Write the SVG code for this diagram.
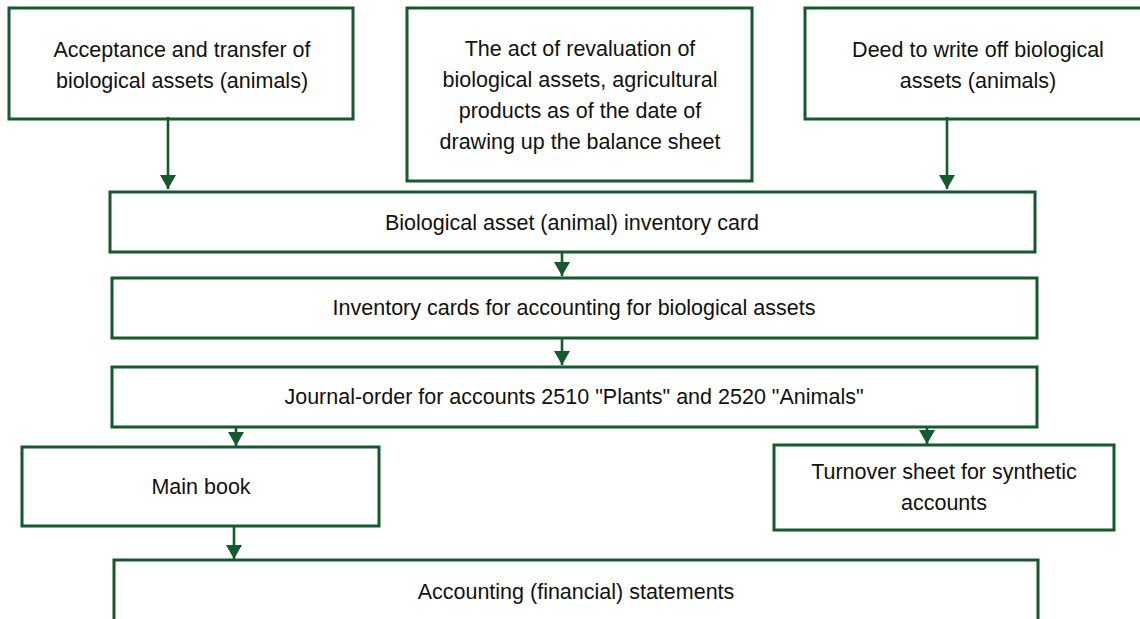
<svg xmlns="http://www.w3.org/2000/svg" width="1140" height="619" viewBox="0 0 1140 619">
  <style>
    .box { fill: #ffffff; stroke: #15592c; stroke-width: 3; }
    .lbl { font-family: "Liberation Sans", Arial, sans-serif; font-size: 21.5px; fill: #111111; text-anchor: middle; }
    .conn { stroke: #15592c; stroke-width: 2.6; fill: none; marker-end: url(#arrow); }
  </style>
  <defs>
    <marker id="arrow" viewBox="0 0 14 16" refX="14" refY="8" markerWidth="14" markerHeight="16" markerUnits="userSpaceOnUse" orient="auto">
      <path d="M0,0 L14,8 L0,16 z" fill="#15592c"/>
    </marker>
  </defs>
  <rect width="1140" height="619" fill="#ffffff"/>

  <g id="acceptance-transfer">
    <rect class="box" x="9" y="8" width="344" height="111"/>
    <text class="lbl" x="182" y="57">Acceptance and transfer of</text>
    <text class="lbl" x="182" y="88">biological assets (animals)</text>
  </g>

  <g id="revaluation-act">
    <rect class="box" x="407" y="8" width="345" height="173"/>
    <text class="lbl" x="580" y="56">The act of revaluation of</text>
    <text class="lbl" x="580" y="87">biological assets, agricultural</text>
    <text class="lbl" x="580" y="118">products as of the date of</text>
    <text class="lbl" x="580" y="149">drawing up the balance sheet</text>
  </g>

  <g id="write-off-deed">
    <rect class="box" x="805" y="8" width="350" height="111"/>
    <text class="lbl" x="978" y="57">Deed to write off biological</text>
    <text class="lbl" x="978" y="88">assets (animals)</text>
  </g>

  <g id="inventory-card">
    <rect class="box" x="110" y="192" width="925" height="60"/>
    <text class="lbl" x="572" y="230">Biological asset (animal) inventory card</text>
  </g>

  <g id="inventory-cards">
    <rect class="box" x="112" y="278" width="925" height="60"/>
    <text class="lbl" x="574" y="315">Inventory cards for accounting for biological assets</text>
  </g>

  <g id="journal-order">
    <rect class="box" x="112" y="367" width="925" height="60"/>
    <text class="lbl" x="574" y="404">Journal-order for accounts 2510 "Plants" and 2520 "Animals"</text>
  </g>

  <g id="main-book">
    <rect class="box" x="22" y="447" width="357" height="79"/>
    <text class="lbl" x="201" y="494">Main book</text>
  </g>

  <g id="turnover-sheet">
    <rect class="box" x="774" y="445" width="340" height="85"/>
    <text class="lbl" x="944" y="479">Turnover sheet for synthetic</text>
    <text class="lbl" x="944" y="510">accounts</text>
  </g>

  <g id="statements">
    <rect class="box" x="114" y="560" width="924" height="80"/>
    <text class="lbl" x="576" y="599">Accounting (financial) statements</text>
  </g>

  <g id="connectors">
    <line class="conn" x1="168" y1="117" x2="168" y2="189"/>
    <line class="conn" x1="947" y1="117" x2="947" y2="189"/>
    <line class="conn" x1="562" y1="252" x2="562" y2="276"/>
    <line class="conn" x1="562" y1="338" x2="562" y2="365"/>
    <line class="conn" x1="236" y1="426" x2="236" y2="446"/>
    <line class="conn" x1="927" y1="426" x2="927" y2="444"/>
    <line class="conn" x1="234" y1="526" x2="234" y2="559"/>
  </g>
</svg>
